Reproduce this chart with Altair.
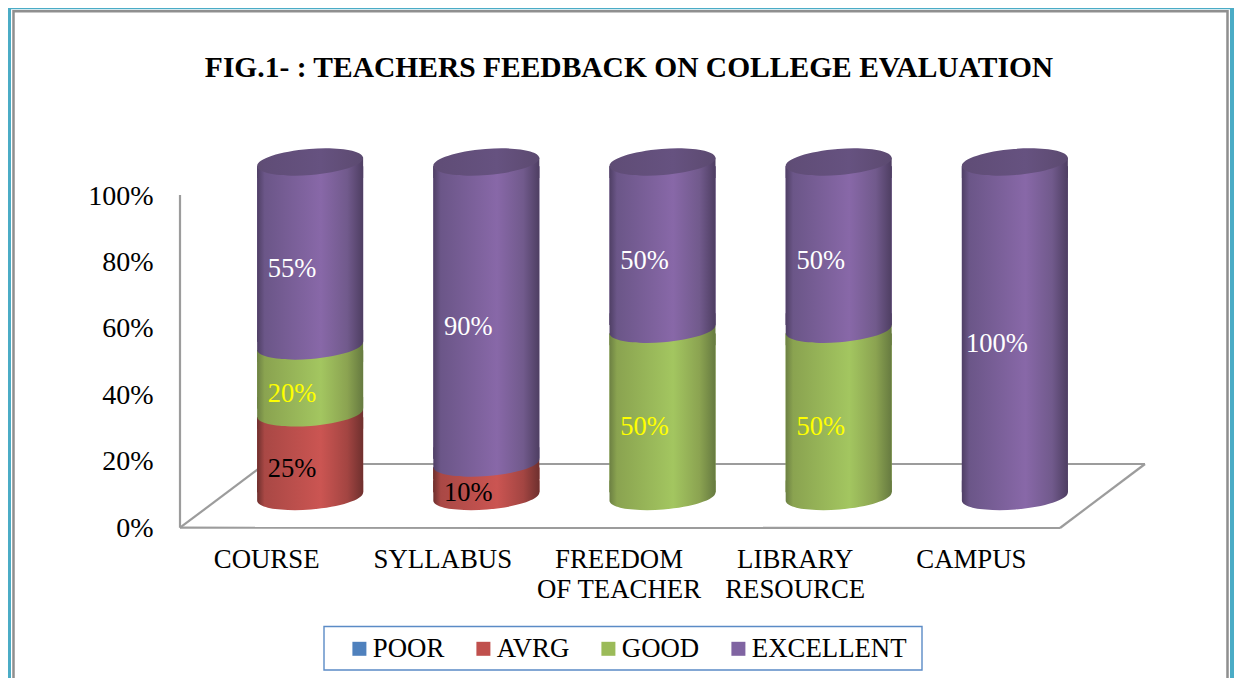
import altair as alt
import pandas as pd

categories = ["COURSE", "SYLLABUS", "FREEDOM\nOF TEACHER", "LIBRARY\nRESOURCE", "CAMPUS"]
series = ["POOR", "AVRG", "GOOD", "EXCELLENT"]
poor = [0, 0, 0, 0, 0]
avrg = [25, 10, 0, 0, 0]
good = [20, 0, 50, 50, 0]
excellent = [55, 90, 50, 50, 100]
legend_colors = ["#4f81bd", "#c0504d", "#9bbb59", "#8064a2"]
tick_values = [0, 20, 40, 60, 80, 100]
TITLE = "FIG.1- : TEACHERS FEEDBACK ON COLLEGE EVALUATION"
FONT = "Liberation Serif"

rows = []
for i, c in enumerate(categories):
    lo = 0
    for s, vals in zip(series, [poor, avrg, good, excellent]):
        v = vals[i]
        rows.append({"cat": c, "series": s, "value": v, "lo": lo, "hi": lo + v,
                     "mid": lo + v / 2, "label": f"{v}%",
                     "side_lo": lo + 1.3, "side_hi": lo + v - 1.3})
        lo += v
df = pd.DataFrame(rows)


def grad(colors, offsets=(0, 0.07, 0.6, 0.85, 1)):
    return alt.LinearGradient(
        gradient="linear", x1=0, x2=1, y1=0, y2=0,
        stops=[alt.GradientStop(color=c, offset=o) for c, o in zip(colors, offsets)],
    )


shades = {
    "AVRG": ["#6e2f2d", "#a94845", "#cb5552", "#a34542", "#6f302e"],
    "GOOD": ["#6c8043", "#8aa350", "#a3c660", "#8ba351", "#667a40"],
    "EXCELLENT": ["#4f3f65", "#6b5688", "#8868a8", "#715a8c", "#4e3e62"],
}
top_shade = ["#5e4c72", "#604d77", "#665280", "#604d76", "#5b4a70"]
text_colors = {"AVRG": "#000000", "GOOD": "#ffff00", "EXCELLENT": "#ffffff"}

ELLIPSE = "M -1 0.078 A 1.003 0.246 -4.5 1 1 1 -0.078 A 1.003 0.246 -4.5 1 1 -1 0.078 Z"
LOWER_CAP = "M -1 0.078 A 1.003 0.246 -4.5 0 0 1 -0.078 L 1 -0.3 L -1 -0.3 Z"
UPPER_EDGE = "M -1 0.078 L 1 -0.078 L 1 0.3 L -1 0.3 Z"
BAR_W = 106
ELL_SIZE = BAR_W ** 2

W, H = 965, 390
x_enc = alt.X(
    "cat:N", sort=categories, title=None,
    scale=alt.Scale(paddingInner=0, paddingOuter=42 / 176),
    axis=alt.Axis(labelAngle=0, domain=False, ticks=False, labelOffset=-43.5,
                  labelExpr="split(datum.label, '\\n')", labelLineHeight=30,
                  labelFont=FONT, labelFontSize=26.8, labelColor="#000000",
                  labelPadding=16, labelLimit=0, labelOverlap=False,
                  labelBaseline="top", grid=False),
)
axis_scale = alt.Scale(domain=[-2 / 3.32, 388 / 3.32], nice=False, zero=False)
bar_scale = alt.Scale(domain=[-33.5 / 3.345, 356.5 / 3.345], nice=False, zero=False)


def px(v):
    return alt.value(v - 180)


def py(v):
    return alt.value(v - 140)


blank = alt.Data(values=[{"a": 1}])


def line(x1, y1, x2, y2, color="#9c9c9c", w=2.2):
    return alt.Chart(blank).mark_rule(color=color, strokeWidth=w).encode(
        x=px(x1), y=py(y1), x2=px(x2), y2=py(y2))


def box(x1, y1, x2, y2, color, w):
    return alt.Chart(blank).mark_rect(fillOpacity=0, stroke=color, strokeWidth=w).encode(
        x=px(x1), y=py(y1), x2=px(x2), y2=py(y2))


def cap(data, shape, field, fill):
    return alt.Chart(data).mark_point(shape=shape, filled=True, fill=fill, size=ELL_SIZE,
                                      opacity=1, strokeWidth=0).encode(
        x=x_enc, y=alt.Y(f"{field}:Q", scale=bar_scale, axis=None))


layers = [
    box(9, 7.2, 1232, 692, "#4bacc6", 4),
    box(13.5, 11.3, 1227.5, 684.5, "#8f8f8f", 2.5),
    box(324, 626.5, 922, 670, "#5b8bc6", 1.4),
    alt.Chart(blank).mark_text(font=FONT, fontSize=29.5, fontWeight="bold", color="#000000",
                               baseline="middle", align="center").encode(
        x=px(629), y=py(68), text=alt.value(TITLE)),
    alt.Chart(pd.DataFrame({"v": tick_values})).mark_rule(opacity=0).encode(
        y=alt.Y("v:Q", scale=axis_scale, title=None,
                axis=alt.Axis(values=tick_values, labelExpr="datum.value + '%'", domain=False,
                              ticks=False, grid=False, labelFont=FONT, labelFontSize=28,
                              labelColor="#000000", labelPadding=27)),
    ),
    line(180, 195, 180, 527.7),
    line(180, 527.7, 1060, 528),
    line(1060, 528, 1145, 464),
    line(265, 464, 1145, 464),
    line(180, 527.7, 265, 464),
    # zero-height entries of the solid layer carry the legend; gradients paint over it
    alt.Chart(df).mark_bar(width=BAR_W).encode(
        x=x_enc,
        y=alt.Y("side_lo:Q", scale=bar_scale, axis=None),
        y2="side_hi:Q",
        opacity=alt.condition("datum.value > 0", alt.value(1), alt.value(0), legend=None),
        color=alt.Color(
            "series:N", sort=series,
            scale=alt.Scale(domain=series, range=legend_colors),
            legend=alt.Legend(
                title=None, orient="none", legendX=166, legendY=495, direction="horizontal",
                columns=4, symbolType="square", symbolSize=196, symbolStrokeWidth=0,
                symbolOpacity=1, labelFont=FONT, labelFontSize=26.8, labelColor="#000000",
                labelOffset=0, columnPadding=25, padding=0, labelLimit=0, gridAlign="each",
            ),
        ),
    ),
]

for s in ["AVRG", "GOOD", "EXCELLENT"]:
    sub = df[(df.series == s) & (df.value > 0)]
    g = grad(shades[s])
    layers.append(cap(sub, UPPER_EDGE, "hi", g))
    layers.append(alt.Chart(sub).mark_bar(width=BAR_W, fill=g).encode(
        x=x_enc, y=alt.Y("side_lo:Q", scale=bar_scale, axis=None), y2="side_hi:Q"))
    # the segment's rounded lower edge lies over the one below it
    layers.append(cap(sub, LOWER_CAP, "lo", g))

tops = df[df.series == "EXCELLENT"]
layers.append(cap(tops, ELLIPSE, "hi", grad(top_shade)))

for s in ["AVRG", "GOOD", "EXCELLENT"]:
    sub = df[(df.series == s) & (df.value > 0)]
    layers.append(alt.Chart(sub).mark_text(font=FONT, fontSize=26.5, color=text_colors[s],
                                           dx=-18, dy=-18, baseline="middle").encode(
        x=x_enc, y=alt.Y("mid:Q", scale=axis_scale, axis=None), text="label:N"))

chart = alt.layer(*layers).resolve_scale(y="independent").properties(
    width=W, height=H,
    padding={"left": 172, "top": 132, "right": 89, "bottom": 148},
    autosize=alt.AutoSizeParams(type="none"),
).configure_view(stroke=None)

chart.save("out.html", embed_options={"renderer": "svg", "actions": False})
